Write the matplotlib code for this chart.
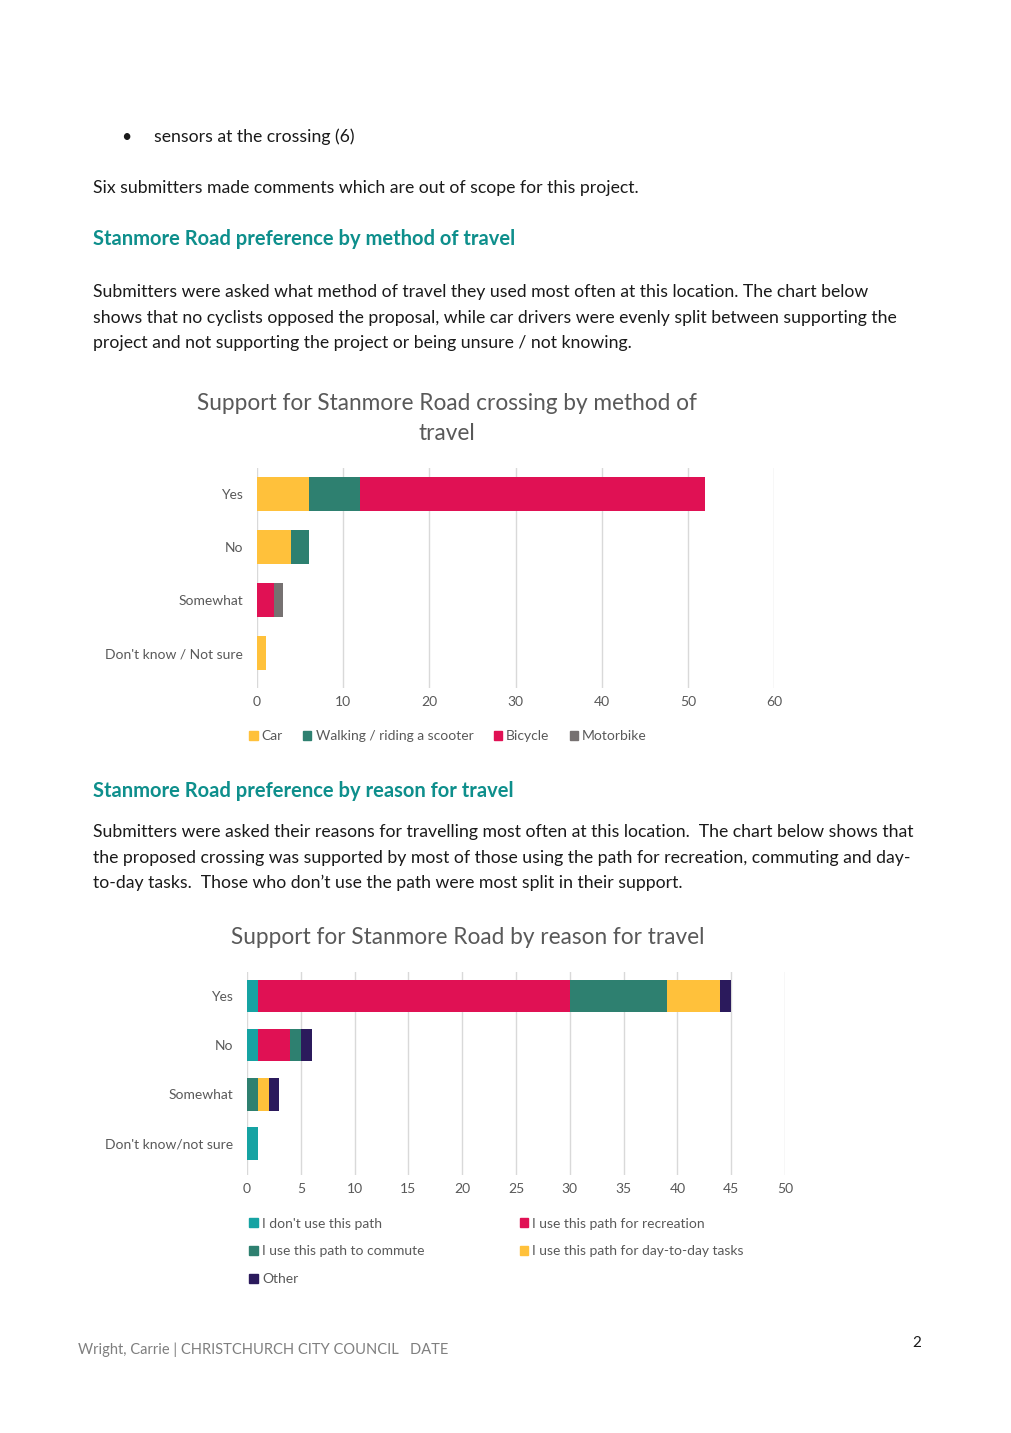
import matplotlib.pyplot as plt
from matplotlib.patches import Patch

plt.rcParams['font.family'] = ['Lato', 'DejaVu Sans']

W, H = 1012, 1433

# chart 1: support by method of travel
answers1 = ["Yes", "No", "Somewhat", "Don't know / Not sure"]
methods = ["Car", "Walking / riding a scooter", "Bicycle", "Motorbike"]
car = [6, 4, 0, 1]
walking = [6, 2, 0, 0]
bicycle = [40, 0, 2, 0]
motorbike = [0, 0, 1, 0]
method_colors = ["#FFC13B", "#2E8070", "#E01154", "#767171"]

# chart 2: support by reason for travel
answers2 = ["Yes", "No", "Somewhat", "Don't know/not sure"]
reasons = ["I don't use this path", "I use this path for recreation",
           "I use this path to commute", "I use this path for day-to-day tasks",
           "Other"]
dont_use = [1, 1, 0, 1]
recreation = [29, 3, 0, 0]
commute = [9, 1, 1, 0]
day_to_day = [5, 0, 1, 0]
other = [1, 1, 1, 0]
reason_colors = ["#16A3A3", "#E01154", "#2E8070", "#FFC13B", "#2B1A5C"]

GRAY = "#595959"
TEAL = "#0E8F8C"
BODY = "#1A1A1A"


def fx(x):
  return x / W


def fy(y):
  return 1 - y / H


def axes_px(fig, left, top, right, bottom):
  return fig.add_axes([fx(left), fy(bottom), (right - left) / W, (bottom - top) / H])


def stacked(ax, cats, series, colors, xmax, step, bar_h):
  left = [0] * len(cats)
  for vals, c in zip(series, colors):
    ax.barh(range(len(cats)), vals, left=left, height=bar_h, color=c, zorder=3)
    left = [a + b for a, b in zip(left, vals)]
  ax.set_xlim(0, xmax)
  ax.set_ylim(3.65, -0.5)
  ax.set_yticks(range(len(cats)))
  ax.set_yticklabels(cats)
  ax.set_xticks(range(0, xmax + 1, step))
  ax.grid(axis="x", color="#D9D9D9", linewidth=1, zorder=0)
  for s in ax.spines.values():
    s.set_visible(False)
  ax.tick_params(axis="both", length=0, labelsize=10, labelcolor=GRAY)
  ax.tick_params(axis="y", pad=10)
  ax.tick_params(axis="x", pad=6)


fig = plt.figure(figsize=(W / 100, H / 100), dpi=100)

body_size = 12.7
head_size = 14.5
# text above chart 1
fig.text(fx(121), fy(137), "\u2022", fontsize=body_size, color=BODY, va="center")
fig.text(fx(154), fy(137), "sensors at the crossing (6)", fontsize=body_size, color=BODY, va="center")
fig.text(fx(93), fy(188), "Six submitters made comments which are out of scope for this project.",
         fontsize=body_size, color=BODY, va="center")
fig.text(fx(93), fy(239), "Stanmore Road preference by method of travel",
         fontsize=head_size, color=TEAL, weight="bold", va="center")
para1 = ["Submitters were asked what method of travel they used most often at this location. The chart below",
         "shows that no cyclists opposed the proposal, while car drivers were evenly split between supporting the",
         "project and not supporting the project or being unsure / not knowing."]
for i, line in enumerate(para1):
  fig.text(fx(93), fy(292 + 25.5 * i), line, fontsize=body_size, color=BODY, va="center")

# chart 1
fig.text(fx(447), fy(404), "Support for Stanmore Road crossing by method of",
         fontsize=16.3, color=GRAY, ha="center", va="center")
fig.text(fx(447), fy(434), "travel", fontsize=16.3, color=GRAY, ha="center", va="center")
ax1 = axes_px(fig, 257, 467.5, 774, 688)
stacked(ax1, answers1, [car, walking, bicycle, motorbike], method_colors, 60, 10, 0.64)
h1 = [Patch(color=c, label=m) for m, c in zip(methods, method_colors)]
fig.legend(handles=h1, loc="center", bbox_to_anchor=(fx(448), fy(736)), ncol=4,
           frameon=False, fontsize=10, labelcolor=GRAY, handlelength=0.6, handleheight=0.6,
           handletextpad=0.3, columnspacing=1.45)

# text between charts
fig.text(fx(93), fy(791), "Stanmore Road preference by reason for travel",
         fontsize=head_size, color=TEAL, weight="bold", va="center")
para2 = ["Submitters were asked their reasons for travelling most often at this location.  The chart below shows that",
         "the proposed crossing was supported by most of those using the path for recreation, commuting and day-",
         "to-day tasks.  Those who don\u2019t use the path were most split in their support."]
for i, line in enumerate(para2):
  fig.text(fx(93), fy(832 + 25.5 * i), line, fontsize=body_size, color=BODY, va="center")

# chart 2
fig.text(fx(468), fy(937), "Support for Stanmore Road by reason for travel",
         fontsize=16.3, color=GRAY, ha="center", va="center")
ax2 = axes_px(fig, 247, 971.5, 785, 1175)
stacked(ax2, answers2, [dont_use, recreation, commute, day_to_day, other], reason_colors, 50, 5, 0.67)
h2 = [Patch(color=c, label=r) for r, c in zip(reasons, reason_colors)]
# column-wise fill: left column = don't use, commute, other
order = [0, 2, 4, 1, 3]
fig.legend(handles=[h2[i] for i in order], loc="upper left",
           bbox_to_anchor=(fx(237), fy(1205)), ncol=2, frameon=False, fontsize=10,
           labelcolor=GRAY, handlelength=0.6, handleheight=0.6, handletextpad=0.3,
           columnspacing=6.85, labelspacing=1.15)

# footer
fig.text(fx(78), fy(1350), "Wright, Carrie | CHRISTCHURCH CITY COUNCIL   DATE",
         fontsize=10.5, color="#7F7F7F", va="center")
fig.text(fx(917), fy(1343), "2", fontsize=11, color=BODY, ha="center", va="center")

fig.savefig("out.png", dpi=100)
